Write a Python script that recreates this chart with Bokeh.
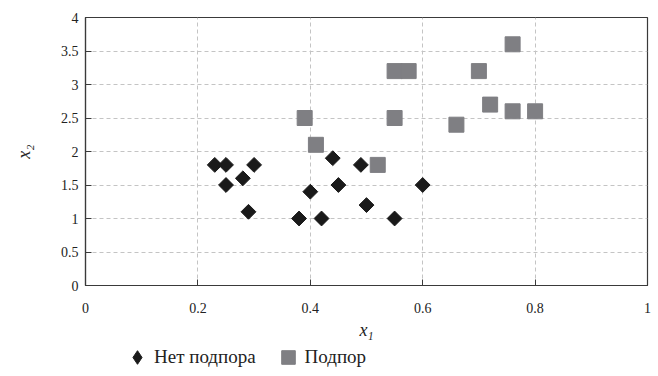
import math
from bokeh.plotting import figure
from bokeh.layouts import column
from bokeh.models import Legend, LegendItem, FixedTicker, Range1d
from bokeh.embed import file_html
from bokeh.resources import INLINE

# Data
no_x = [0.23, 0.25, 0.30, 0.25, 0.28, 0.29, 0.38, 0.40, 0.42, 0.44, 0.45, 0.49, 0.50, 0.55, 0.60]
no_y = [1.8, 1.8, 1.8, 1.5, 1.6, 1.1, 1.0, 1.4, 1.0, 1.9, 1.5, 1.8, 1.2, 1.0, 1.5]
yes_x = [0.39, 0.41, 0.52, 0.55, 0.55, 0.575, 0.66, 0.70, 0.72, 0.76, 0.76, 0.80]
yes_y = [2.5, 2.1, 1.8, 2.5, 3.2, 3.2, 2.4, 3.2, 2.7, 3.6, 2.6, 2.6]
x_ticks = [0, 0.2, 0.4, 0.6, 0.8, 1]
y_ticks = [0, 0.5, 1, 1.5, 2, 2.5, 3, 3.5, 4]
series_names = ["Нет подпора", "Подпор"]

FONT = "Liberation Serif"
DARK = "#1a1a1a"
GRAY = "#7f7f83"

p = figure(width=655, height=345, output_backend="svg", toolbar_location=None,
           x_range=Range1d(0, 1), y_range=Range1d(0, 4),
           min_border_left=85, min_border_right=8, min_border_top=17, min_border_bottom=60)

p.outline_line_color = "#3a3a3a"
p.outline_line_width = 1.2

for ax in (p.xaxis, p.yaxis):
    ax.axis_line_color = "#3a3a3a"
    ax.axis_line_width = 1.2
    ax.major_tick_in = 6
    ax.major_tick_out = 0
    ax.major_tick_line_color = "#3a3a3a"
    ax.minor_tick_line_color = None
    ax.major_label_text_font = FONT
    ax.major_label_text_font_size = "14px"
    ax.major_label_text_color = "#222222"
    ax.axis_label_text_font = FONT
    ax.axis_label_text_font_style = "italic"
    ax.axis_label_text_font_size = "18px"
    ax.axis_label_text_color = "#222222"

p.xaxis.ticker = FixedTicker(ticks=x_ticks)
p.yaxis.ticker = FixedTicker(ticks=y_ticks)
p.xaxis.major_label_overrides = {0: "0", 1: "1"}
p.yaxis.major_label_overrides = {0: "0", 1: "1", 2: "2", 3: "3", 4: "4"}
p.xaxis.major_label_standoff = 17
p.yaxis.major_label_standoff = 7
p.xaxis.axis_label = "x₁"
p.yaxis.axis_label = "x₂"
p.xaxis.axis_label_standoff = 4
p.yaxis.axis_label_standoff = 24

for g in (p.xgrid, p.ygrid):
    g.grid_line_color = "#c4c4c4"
    g.grid_line_dash = "4 3"
    g.grid_line_width = 1

p.scatter(no_x, no_y, marker="square", angle=math.pi / 4, size=10.5,
          fill_color=DARK, line_color=DARK)
p.scatter(yes_x, yes_y, marker="square", size=15,
          fill_color=GRAY, line_color=GRAY)

# Legend strip below the plot (its ranges keep the series out of view;
# only the legend swatches are visible)
lg = figure(width=655, height=24, output_backend="svg", toolbar_location=None,
            x_range=Range1d(10, 11), y_range=Range1d(10, 11),
            min_border_left=85, min_border_right=8, min_border_top=0, min_border_bottom=0)
lg.axis.visible = False
lg.grid.visible = False
lg.outline_line_color = None
k1 = lg.scatter(no_x, no_y, marker="diamond", size=10.5,
                fill_color=DARK, line_color=DARK)
k2 = lg.scatter(yes_x, yes_y, marker="square", size=15,
                fill_color=GRAY, line_color=GRAY)
legend = Legend(items=[LegendItem(label=series_names[0], renderers=[k1]),
                       LegendItem(label=series_names[1], renderers=[k2])],
                orientation="horizontal", location="center_left",
                label_text_font=FONT, label_text_font_size="19px",
                label_text_color="#222222", border_line_color=None,
                background_fill_alpha=0, spacing=15, padding=0, margin=35,
                glyph_width=34, glyph_height=34, label_standoff=0)
lg.add_layout(legend, "center")

layout = column(p, lg, spacing=0)
open("out.html", "w").write(file_html(layout, INLINE))
